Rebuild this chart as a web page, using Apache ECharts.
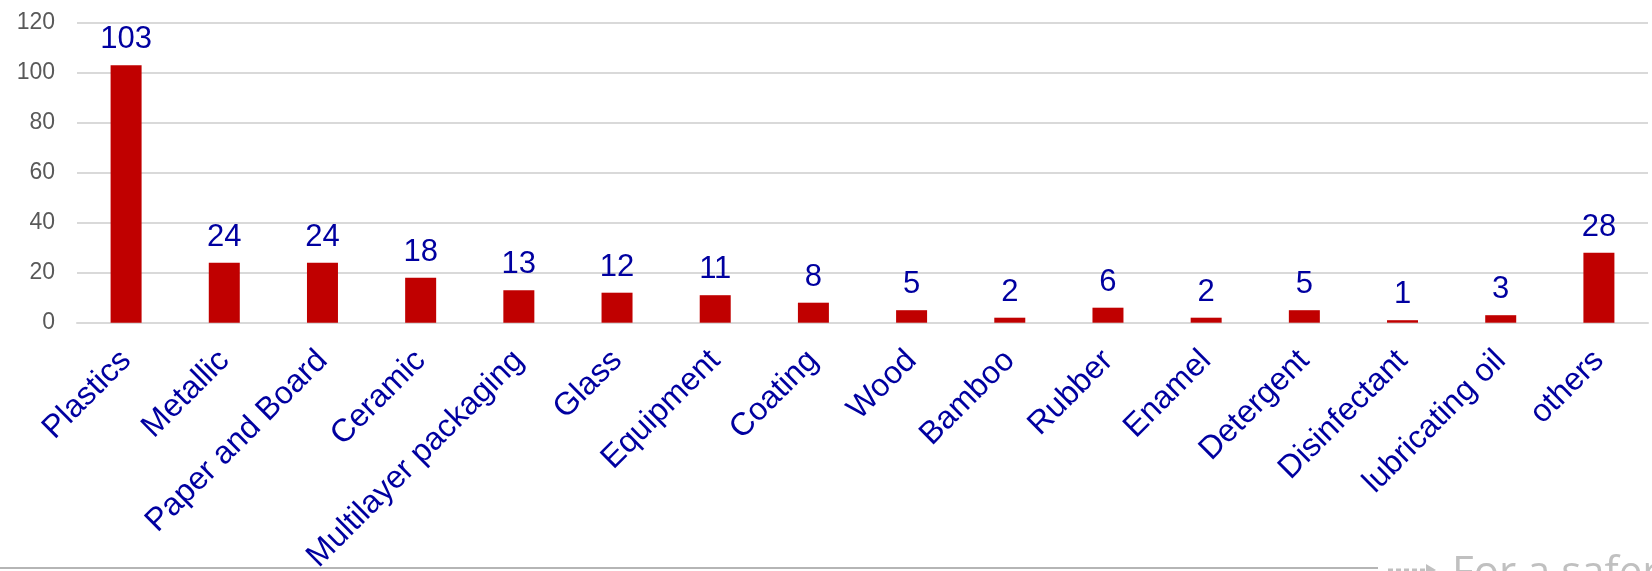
<!DOCTYPE html>
<html>
<head>
<meta charset="utf-8">
<script src="https://cdn.jsdelivr.net/npm/echarts@6/dist/echarts.min.js"></script>
<style>
html,body{margin:0;padding:0;background:#ffffff;}
#c{width:1652px;height:571px;}
</style>
</head>
<body>
<div id="c"></div>
<script>
const categories = ["Plastics","Metallic","Paper and Board","Ceramic","Multilayer packaging","Glass","Equipment","Coating","Wood","Bamboo","Rubber","Enamel","Detergent","Disinfectant","lubricating oil","others"];
const values = [103,24,24,18,13,12,11,8,5,2,6,2,5,1,3,28];
const yTicks = {min:0, max:120, interval:20};
const footerText = "For a safer";

const chart = echarts.init(document.getElementById('c'));
chart.setOption({
  animation:false,
  backgroundColor:'#ffffff',
  grid:{left:77, right:4, top:22.7, bottom:248.3, containLabel:false, outerBoundsMode:'none'},
  xAxis:{
    type:'category',
    data:categories,
    axisLine:{show:true, lineStyle:{color:'#d9d9d9', width:2}},
    axisTick:{show:false},
    axisLabel:{interval:0, rotate:45, margin:33, color:'#0000a0', fontSize:32, fontFamily:'Liberation Sans'}
  },
  yAxis:{
    type:'value',
    min:yTicks.min, max:yTicks.max, interval:yTicks.interval,
    axisLine:{show:false},
    axisTick:{show:false},
    splitLine:{lineStyle:{color:'#d9d9d9', width:2}},
    axisLabel:{color:'#595959', fontSize:23, margin:22, fontFamily:'Liberation Sans'}
  },
  series:[{
    type:'bar',
    data:values,
    barWidth:31,
    itemStyle:{color:'#c00000'},
    label:{show:true, position:'top', distance:10, color:'#0000a0', fontSize:31, fontFamily:'Liberation Sans'}
  }],
  graphic:[
    {type:'line', shape:{x1:0, y1:568, x2:1378, y2:568}, style:{stroke:'#b5b5b5', lineWidth:2}},
    {type:'line', shape:{x1:1388, y1:570, x2:1428, y2:570}, style:{stroke:'#c0c0c0', lineWidth:3, lineDash:[5,3]}},
    {type:'polygon', shape:{points:[[1426,564],[1436,570],[1426,576]]}, style:{fill:'#c0c0c0'}},
    {type:'text', left:1452, top:553, style:{text:footerText, fontSize:42, fill:'#c0c0c0', fontFamily:'Open Sans'}}
  ]
});
</script>
</body>
</html>
